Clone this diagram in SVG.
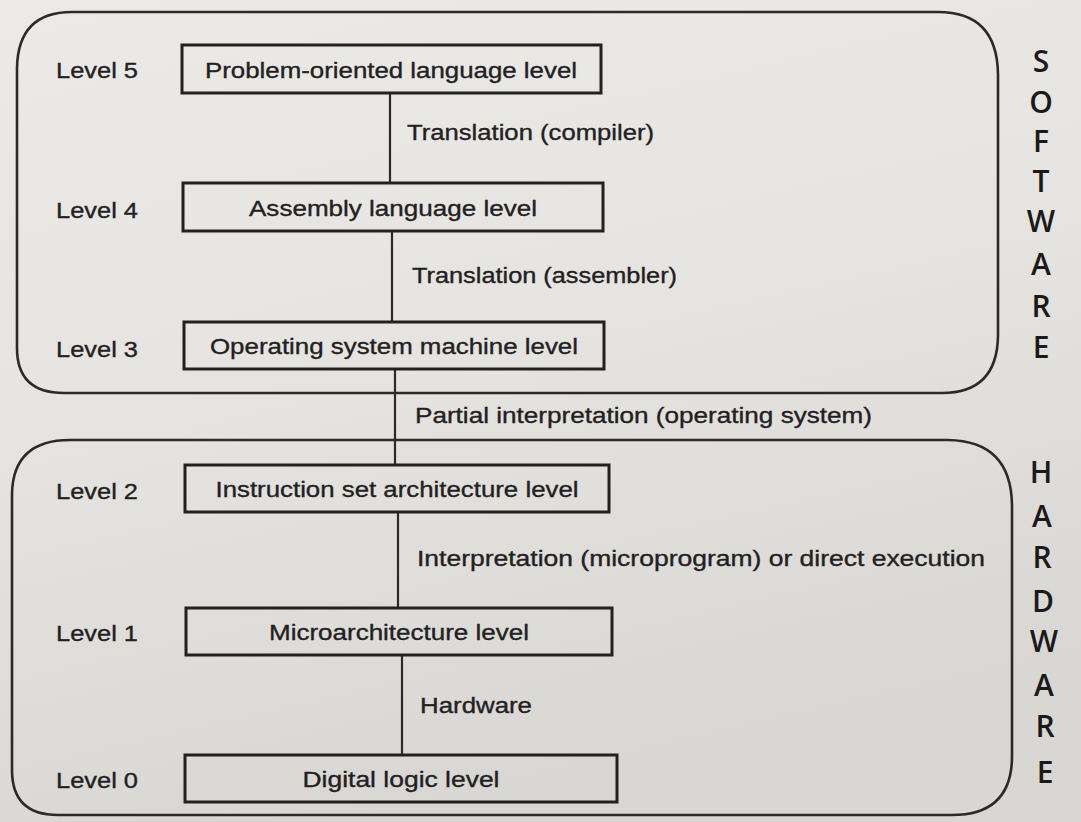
<svg xmlns="http://www.w3.org/2000/svg" width="1081" height="822" viewBox="0 0 1081 822">
  <defs>
    <linearGradient id="paper" x1="0" y1="0" x2="0.3" y2="1">
      <stop offset="0" stop-color="#ebeae7"/>
      <stop offset="0.5" stop-color="#e6e4e1"/>
      <stop offset="1" stop-color="#d9d7d4"/>
    </linearGradient>
  </defs>
  <style>
    .frame { fill: none; stroke: #2b2a29; stroke-width: 2.6; }
    .box { fill: none; stroke: #222120; stroke-width: 3; }
    .link { fill: none; stroke: #2b2a29; stroke-width: 2.2; }
    text { font-family: "Liberation Sans", Arial, sans-serif; font-size: 22px; fill: #22211f; stroke: #22211f; stroke-width: 0.35; }
    .name { text-anchor: middle; }
    .side text { font-family: "Open Sans", "Noto Sans", sans-serif; font-size: 30px; font-weight: 600; fill: #1b1a19; stroke: none; text-anchor: middle; }
  </style>

  <rect x="0" y="0" width="1081" height="822" fill="url(#paper)"/>

  <!-- software and hardware groupings -->
  <g id="software">
    <path class="frame" d="M 72,12 H 938 Q 997,12 998,74 V 336 Q 997,393 942,393 H 64 Q 17,393 17,348 V 68 Q 18,12 72,12 Z"/>
    <g class="side">
      <text x="1041" y="72">S</text>
      <text x="1041" y="113">O</text>
      <text x="1041" y="152">F</text>
      <text x="1041" y="192">T</text>
      <text x="1041" y="232">W</text>
      <text x="1041" y="275">A</text>
      <text x="1041" y="317">R</text>
      <text x="1041" y="358">E</text>
    </g>
  </g>
  <g id="hardware">
    <path class="frame" d="M 70,440 H 948 Q 1011,441 1012,505 V 758 Q 1011,815 952,815 H 58 Q 12,815 12,770 V 494 Q 13,440 70,440 Z"/>
    <g class="side">
      <text x="1041" y="483">H</text>
      <text x="1042" y="527">A</text>
      <text x="1042" y="568">R</text>
      <text x="1043" y="612">D</text>
      <text x="1044" y="652">W</text>
      <text x="1044" y="696">A</text>
      <text x="1045" y="737">R</text>
      <text x="1045" y="783">E</text>
    </g>
  </g>

  <!-- connectors between adjacent levels -->
  <g id="connectors">
    <line class="link" x1="390" y1="93" x2="390" y2="183"/>
    <line class="link" x1="392" y1="231" x2="392" y2="322"/>
    <line class="link" x1="395" y1="369" x2="395" y2="465"/>
    <line class="link" x1="398" y1="512" x2="398" y2="608"/>
    <line class="link" x1="402" y1="655" x2="402" y2="755"/>
    <text x="407" y="140" textLength="247" lengthAdjust="spacingAndGlyphs">Translation (compiler)</text>
    <text x="412" y="283" textLength="265" lengthAdjust="spacingAndGlyphs">Translation (assembler)</text>
    <text x="415" y="423" textLength="457" lengthAdjust="spacingAndGlyphs">Partial interpretation (operating system)</text>
    <text x="417" y="566" textLength="568" lengthAdjust="spacingAndGlyphs">Interpretation (microprogram) or direct execution</text>
    <text x="420" y="713" textLength="112" lengthAdjust="spacingAndGlyphs">Hardware</text>
  </g>

  <!-- levels -->
  <g id="level5">
    <text x="56" y="78" textLength="82" lengthAdjust="spacingAndGlyphs">Level 5</text>
    <rect class="box" x="182" y="45" width="419" height="48"/>
    <text class="name" x="391" y="78" textLength="372" lengthAdjust="spacingAndGlyphs">Problem-oriented language level</text>
  </g>
  <g id="level4">
    <text x="56" y="218" textLength="82" lengthAdjust="spacingAndGlyphs">Level 4</text>
    <rect class="box" x="183" y="183" width="420" height="48"/>
    <text class="name" x="393" y="216" textLength="288" lengthAdjust="spacingAndGlyphs">Assembly language level</text>
  </g>
  <g id="level3">
    <text x="56" y="357" textLength="82" lengthAdjust="spacingAndGlyphs">Level 3</text>
    <rect class="box" x="184" y="322" width="420" height="47"/>
    <text class="name" x="394" y="354" textLength="368" lengthAdjust="spacingAndGlyphs">Operating system machine level</text>
  </g>
  <g id="level2">
    <text x="56" y="499" textLength="82" lengthAdjust="spacingAndGlyphs">Level 2</text>
    <rect class="box" x="185" y="465" width="424" height="47"/>
    <text class="name" x="397" y="497" textLength="363" lengthAdjust="spacingAndGlyphs">Instruction set architecture level</text>
  </g>
  <g id="level1">
    <text x="56" y="641" textLength="82" lengthAdjust="spacingAndGlyphs">Level 1</text>
    <rect class="box" x="186" y="608" width="426" height="47"/>
    <text class="name" x="399" y="640" textLength="260" lengthAdjust="spacingAndGlyphs">Microarchitecture level</text>
  </g>
  <g id="level0">
    <text x="56" y="788" textLength="82" lengthAdjust="spacingAndGlyphs">Level 0</text>
    <rect class="box" x="185" y="755" width="432" height="47"/>
    <text class="name" x="401" y="787" textLength="197" lengthAdjust="spacingAndGlyphs">Digital logic level</text>
  </g>
</svg>
